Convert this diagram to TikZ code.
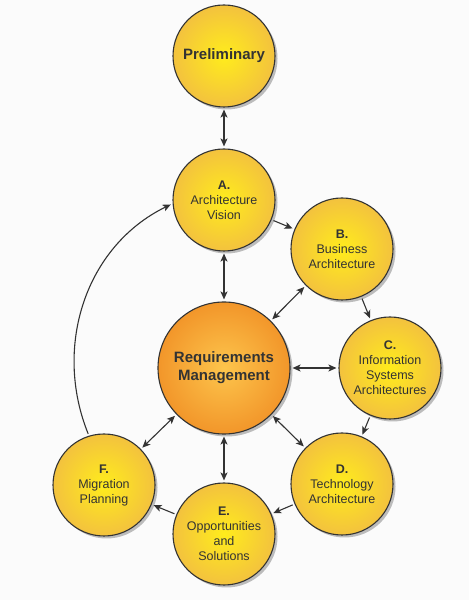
\documentclass[tikz,border=0pt]{standalone}
\usepackage{fontspec}
\setmainfont{Liberation Sans}
\usetikzlibrary{arrows.meta,shadows}
\definecolor{ink}{HTML}{333333}
\definecolor{paper}{HTML}{FBFBFB}
\definecolor{sunIn}{HTML}{FFEC1C}
\definecolor{sunOut}{HTML}{F3C23E}
\definecolor{coreIn}{HTML}{FDC54C}
\definecolor{coreOut}{HTML}{F2962A}
\begin{document}
\begin{tikzpicture}[x=1pt, y=1pt,
        phase/.style={circle, draw=ink, line width=1.1pt, minimum size=102pt, inner sep=0pt,
            inner color=sunIn, outer color=sunOut, align=center, text=ink,
            font=\fontsize{12.5}{15}\selectfont,
            drop shadow={shadow xshift=2.5pt, shadow yshift=-2.5pt, opacity=0.25, fill=black}},
        core/.style={phase, minimum size=132pt, inner color=coreIn, outer color=coreOut,
            font=\bfseries\fontsize{15}{18}\selectfont},
        link/.style={draw=ink, line width=1.1pt, -{Stealth[length=8pt, width=7pt, inset=2pt]},
            shorten >=2pt, shorten <=2pt},
        both/.style={link, {Stealth[length=8pt, width=7pt, inset=2pt]}-{Stealth[length=8pt, width=7pt, inset=2pt]}}
    ]
    \fill[paper] (0,0) rectangle (469,600);
    \useasboundingbox (0,0) rectangle (469,600);

    \node[core] (req) at (224,232) {Requirements\\Management};
    \node[phase, font=\bfseries\fontsize{15}{18}\selectfont] (prelim) at (224,544) {Preliminary};
    \node[phase] (a) at (224,400) {\textbf{A.}\\Architecture\\Vision};
    \node[phase] (b) at (342,351) {\textbf{B.}\\Business\\Architecture};
    \node[phase] (c) at (390,232) {\textbf{C.}\\Information\\Systems\\Architectures};
    \node[phase] (d) at (342,116) {\textbf{D.}\\Technology\\Architecture};
    \node[phase] (e) at (224,66) {\textbf{E.}\\Opportunities\\and\\Solutions};
    \node[phase] (f) at (104,115) {\textbf{F.}\\Migration\\Planning};

    % cycle
    \draw[link] (a) -- (b);
    \draw[link] (b) -- (c);
    \draw[link] (c) -- (d);
    \draw[link] (d) -- (e);
    \draw[link] (e) -- (f);
    \draw[link] (f.107) to[out=112, in=206] (a.184);

    % to and from requirements
    \draw[both] (prelim) -- (a);
    \draw[both] (req) -- (a);
    \draw[both] (req) -- (b);
    \draw[both] (req) -- (c);
    \draw[both] (req) -- (d);
    \draw[both] (req) -- (e);
    \draw[both] (req) -- (f);
\end{tikzpicture}
\end{document}
